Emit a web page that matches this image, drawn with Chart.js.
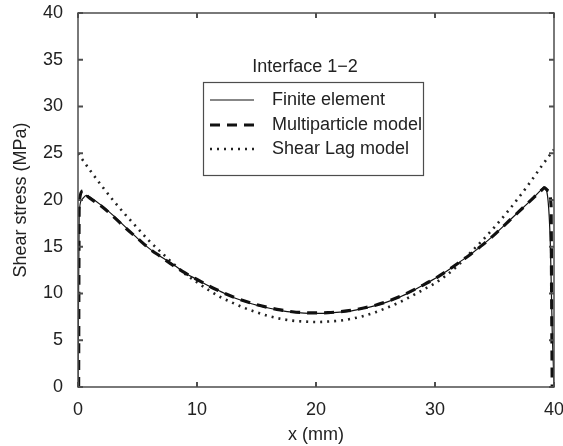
<!DOCTYPE html>
<html>
<head>
<meta charset="utf-8">
<script src="https://cdn.jsdelivr.net/npm/chart.js@4/dist/chart.umd.min.js"></script>
<style>
html, body { margin: 0; padding: 0; background: #fff; }
</style>
</head>
<body>
<canvas id="grafico" width="563" height="446"></canvas>
<script>
// Interface 1-2: shear stress along the fibre, three models
const feX = [0, 0.1, 0.3, 0.7, 1, 2, 3, 4, 5, 6, 7, 8, 9, 10, 11, 12, 13, 14, 15, 16, 17, 18, 19, 20,
             21, 22, 23, 24, 25, 26, 27, 28, 29, 30, 31, 32, 33, 34, 35, 36, 37, 38, 39, 39.15, 39.45, 39.7, 39.85, 40];
const feY = [0.5, 18.5, 20.0, 20.5, 20.3, 19.4, 18.3, 17.1, 15.9, 14.8, 13.9, 13.1, 12.2, 11.5, 10.8, 10.2, 9.6, 9.15, 8.75, 8.45, 8.2, 8.0, 7.9, 7.88,
             7.9, 8.0, 8.15, 8.4, 8.7, 9.1, 9.6, 10.2, 10.9, 11.6, 12.4, 13.3, 14.2, 15.2, 16.3, 17.5, 18.7, 19.9, 21.2, 21.4, 20.5, 15.0, 6.0, 0.5];

const mpX = [0.05, 0.1, 0.45, 0.8, 1, 2, 3, 4, 5, 6, 7, 8, 9, 10, 11, 12, 13, 14, 15, 16, 17, 18, 19, 20,
             21, 22, 23, 24, 25, 26, 27, 28, 29, 30, 31, 32, 33, 34, 35, 36, 37, 38, 39, 39.2, 39.5, 39.75, 39.8, 39.85];
const mpY = [0, 19.8, 21.0, 20.4, 20.2, 19.3, 18.2, 17.0, 15.9, 14.8, 13.9, 13.0, 12.2, 11.5, 10.8, 10.2, 9.65, 9.2, 8.8, 8.5, 8.25, 8.05, 7.95, 7.92,
             7.95, 8.05, 8.2, 8.45, 8.75, 9.15, 9.65, 10.25, 10.9, 11.6, 12.4, 13.3, 14.2, 15.2, 16.3, 17.5, 18.7, 19.9, 21.1, 21.3, 21.0, 19.5, 10.0, 0];

const slX = [0, 1, 2, 3, 4, 5, 6, 7, 8, 9, 10, 11, 12, 13, 14, 15, 16, 17, 18, 19, 20,
             21, 22, 23, 24, 25, 26, 27, 28, 29, 30, 31, 32, 33, 34, 35, 36, 37, 38, 39, 40];
const slY = [25.0, 23.2, 21.5, 19.9, 18.4, 17.0, 15.6, 14.4, 13.2, 12.1, 11.2, 10.35, 9.6, 9.0, 8.45, 8.0, 7.6, 7.3, 7.1, 7.0, 6.95,
             7.0, 7.1, 7.3, 7.6, 8.0, 8.5, 9.05, 9.7, 10.4, 11.1, 12.0, 13.1, 14.4, 15.7, 17.1, 18.6, 20.2, 21.9, 23.7, 25.4];

const series = ["Finite element", "Multiparticle model", "Shear Lag model"];
const xTicks = [0, 10, 20, 30, 40];
const yTicks = [0, 5, 10, 15, 20, 25, 30, 35, 40];

const fonte = "'Liberation Sans', Arial, sans-serif";
const corEixo = "#4d4d4d";
const corTexto = "#222";

function pontos(xs, ys){
    return xs.map((x, i) => ({x: x, y: ys[i]}));
}

// box around the plot area with inward tick marks on all four sides
const moldura = {
    id: "moldura",
    afterDraw(chart){
        const ctx = chart.ctx;
        const a = chart.chartArea;
        const sx = chart.scales.x;
        const sy = chart.scales.y;
        ctx.save();
        ctx.strokeStyle = corEixo;
        ctx.lineWidth = 1.5;
        ctx.strokeRect(a.left, a.top, a.right - a.left, a.bottom - a.top);
        ctx.lineWidth = 2;
        ctx.beginPath();
        xTicks.forEach(v => {
            const px = sx.getPixelForValue(v);
            ctx.moveTo(px, a.bottom); ctx.lineTo(px, a.bottom - 5);
            ctx.moveTo(px, a.top); ctx.lineTo(px, a.top + 5);
        });
        yTicks.forEach(v => {
            const py = sy.getPixelForValue(v);
            ctx.moveTo(a.left, py); ctx.lineTo(a.left + 5, py);
            ctx.moveTo(a.right, py); ctx.lineTo(a.right - 5, py);
        });
        ctx.stroke();
        ctx.restore();
    }
};

// legend box with its heading, placed inside the plot
const legenda = {
    id: "legenda",
    afterDraw(chart){
        const ctx = chart.ctx;
        ctx.save();
        ctx.font = "18px " + fonte;
        ctx.fillStyle = corTexto;
        ctx.textAlign = "center";
        ctx.textBaseline = "middle";
        ctx.fillText("Interface 1\u22122", 305, 67);

        ctx.fillStyle = "#fff";
        ctx.fillRect(203, 82, 220, 93);
        ctx.strokeStyle = corEixo;
        ctx.lineWidth = 1.2;
        ctx.strokeRect(203.5, 82.5, 220, 93);

        const linhas = [100, 125, 149];
        chart.data.datasets.forEach((ds, i) => {
            const y = linhas[i];
            ctx.strokeStyle = ds.borderColor;
            ctx.lineWidth = ds.borderWidth;
            ctx.setLineDash(ds.borderDash || []);
            ctx.beginPath();
            ctx.moveTo(210, y);
            ctx.lineTo(254, y);
            ctx.stroke();
            ctx.setLineDash([]);
            ctx.fillStyle = corTexto;
            ctx.textAlign = "left";
            ctx.fillText(ds.label, 272, y);
        });
        ctx.restore();
    }
};

const grafico = new Chart(document.getElementById("grafico"), {
    type: "line",
    data: {
        datasets: [
            {
                label: series[0],
                data: pontos(feX, feY),
                borderColor: "#111",
                borderWidth: 1.2,
                pointRadius: 0,
                cubicInterpolationMode: "monotone"
            },
            {
                label: series[1],
                data: pontos(mpX, mpY),
                borderColor: "#111",
                borderWidth: 3.2,
                borderDash: [10, 7],
                pointRadius: 0,
                cubicInterpolationMode: "monotone"
            },
            {
                label: series[2],
                data: pontos(slX, slY),
                borderColor: "#222",
                borderWidth: 2.6,
                borderDash: [2, 5],
                pointRadius: 0,
                cubicInterpolationMode: "monotone"
            }
        ]
    },
    options: {
        responsive: false,
        animation: false,
        devicePixelRatio: 1,
        layout: { padding: { top: 13, right: 9, left: 0, bottom: 0 } },
        plugins: {
            legend: { display: false },
            tooltip: { enabled: false }
        },
        scales: {
            x: {
                type: "linear",
                min: 0,
                max: 40,
                afterBuildTicks: s => { s.ticks = xTicks.map(v => ({value: v})); },
                afterFit: s => { s.height = 59; s.paddingLeft = 0; s.paddingRight = 0; },
                grid: { display: false, drawTicks: false },
                border: { display: false },
                ticks: {
                    padding: 12,
                    color: corTexto,
                    font: { family: fonte, size: 18 }
                },
                title: {
                    display: true,
                    text: "x (mm)",
                    color: corTexto,
                    font: { family: fonte, size: 18 },
                    padding: { top: 0, bottom: 0 }
                }
            },
            y: {
                min: 0,
                max: 40,
                afterBuildTicks: s => { s.ticks = yTicks.map(v => ({value: v})); },
                afterFit: s => { s.width = 78; s.paddingTop = 0; s.paddingBottom = 0; },
                grid: { display: false, drawTicks: false },
                border: { display: false },
                ticks: {
                    padding: 15,
                    color: corTexto,
                    font: { family: fonte, size: 18 }
                },
                title: {
                    display: true,
                    text: "Shear stress (MPa)",
                    color: corTexto,
                    font: { family: fonte, size: 18 },
                    padding: { top: 10, bottom: 0 }
                }
            }
        }
    },
    plugins: [moldura, legenda]
});
</script>
</body>
</html>
